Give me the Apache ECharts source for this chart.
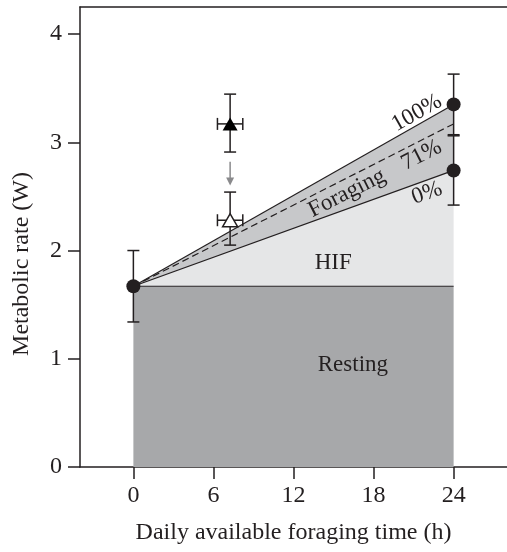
<!DOCTYPE html>
<html>
<head>
<meta charset="utf-8">
<script src="https://cdn.jsdelivr.net/npm/echarts@6/dist/echarts.min.js"></script>
<style>
html,body{margin:0;padding:0;background:#fff;}
#chart{width:507px;height:552px;}
</style>
</head>
<body>
<div id="chart"></div>
<script>
// ---- data ----
const hours = [0, 24];
const restingRate = [1.67, 1.67];
const foraging0 = [1.67, 2.74];
const foraging71 = [1.67, 3.17];
const foraging100 = [1.67, 3.35];

const measuredX = [0, 24, 24];
const measuredY = [1.67, 3.35, 2.74];
const measuredLow = [1.34, 3.07, 2.42];
const measuredHigh = [2.00, 3.63, 3.06];

const triX = [7.25, 7.25];
const triXLow = [6.3, 6.3];
const triXHigh = [8.2, 8.2];
const triY = [3.17, 2.28];          // filled, open
const triLow = [2.91, 2.05];
const triHigh = [3.445, 2.54];
const arrowFrom = [7.25, 2.82];
const arrowTo = [7.25, 2.60];

const xTicks = [0, 6, 12, 18, 24];
const yTicks = [0, 1, 2, 3, 4];

const labelTexts = ['100%', '71%', '0%', 'Foraging', 'HIF', 'Resting'];
const labelX = [21.25, 21.6, 22.0, 16.0, 14.98, 16.45];
const labelY = [3.27, 2.88, 2.53, 2.53, 1.885, 0.944];
const labelRot = [29.7, 27, 20, 26.6, 0, 0];

// ---- build ----
const INK = '#231f20';
const FONT = 'Liberation Serif';

function polygonSeries(pts, color, z) {
  return {
    type: 'custom', z: z, silent: true,
    data: [0],
    renderItem: function (params, api) {
      return {
        type: 'polygon',
        shape: { points: pts.map(p => api.coord(p)) },
        style: { fill: color }
      };
    }
  };
}

const restingPoly = [[hours[0], 0], [hours[0], restingRate[0]], [hours[1], restingRate[1]], [hours[1], 0]];
const hifPoly = [[hours[0], restingRate[0]], [hours[1], foraging0[1]], [hours[1], restingRate[1]]];
const foragePoly = [[hours[0], foraging0[0]], [hours[1], foraging100[1]], [hours[1], foraging0[1]]];

function lineSeries(vals, dashed, z) {
  return {
    type: 'line', z: z, silent: true, symbol: 'none',
    data: hours.map((h, i) => [h, vals[i]]),
    lineStyle: { color: INK, width: 1.2, type: dashed ? [7, 4] : 'solid' }
  };
}

const errData = [];
for (let i = 0; i < measuredX.length; i++) errData.push([measuredX[i], measuredY[i], measuredLow[i], measuredHigh[i], NaN, NaN]);
for (let i = 0; i < triX.length; i++) errData.push([triX[i], triY[i], triLow[i], triHigh[i], triXLow[i], triXHigh[i]]);

const errSeries = {
  type: 'custom', z: 5, silent: true,
  data: errData,
  renderItem: function (params, api) {
    const x = api.value(0), y = api.value(1);
    const lo = api.coord([x, api.value(2)]);
    const hi = api.coord([x, api.value(3)]);
    const cap = 6;
    const st = { stroke: INK, lineWidth: 1.5 };
    const children = [
      { type: 'line', shape: { x1: lo[0], y1: lo[1], x2: hi[0], y2: hi[1] }, style: st },
      { type: 'line', shape: { x1: lo[0] - cap, y1: lo[1], x2: lo[0] + cap, y2: lo[1] }, style: st },
      { type: 'line', shape: { x1: hi[0] - cap, y1: hi[1], x2: hi[0] + cap, y2: hi[1] }, style: st }
    ];
    const xl = api.value(4), xh = api.value(5);
    if (!isNaN(xl)) {
      const l = api.coord([xl, y]), r = api.coord([xh, y]);
      children.push(
        { type: 'line', shape: { x1: l[0], y1: l[1], x2: r[0], y2: r[1] }, style: st },
        { type: 'line', shape: { x1: l[0], y1: l[1] - cap, x2: l[0], y2: l[1] + cap }, style: st },
        { type: 'line', shape: { x1: r[0], y1: r[1] - cap, x2: r[0], y2: r[1] + cap }, style: st }
      );
    }
    return { type: 'group', children: children };
  }
};

const arrowSeries = {
  type: 'custom', z: 5, silent: true,
  data: [[arrowFrom[0], arrowFrom[1], arrowTo[0], arrowTo[1]]],
  renderItem: function (params, api) {
    const a = api.coord([api.value(0), api.value(1)]);
    const b = api.coord([api.value(2), api.value(3)]);
    const c = '#8a8a8c';
    return {
      type: 'group', children: [
        { type: 'line', shape: { x1: a[0], y1: a[1], x2: b[0], y2: b[1] - 6 }, style: { stroke: c, lineWidth: 1.5 } },
        { type: 'polygon', shape: { points: [[b[0] - 4, b[1] - 8], [b[0] + 4, b[1] - 8], [b[0], b[1]]] }, style: { fill: c } }
      ]
    };
  }
};

const labelSeries = {
  type: 'custom', z: 6, silent: true,
  data: labelTexts.map((t, i) => [labelX[i], labelY[i], i]),
  renderItem: function (params, api) {
    const i = api.value(2);
    const p = api.coord([api.value(0), api.value(1)]);
    return {
      type: 'text', x: p[0], y: p[1], rotation: labelRot[i] * Math.PI / 180,
      style: { text: labelTexts[i], fill: INK, font: '23px "' + FONT + '"', align: 'center', verticalAlign: 'middle' }
    };
  }
};

const option = {
  animation: false,
  backgroundColor: '#fff',
  grid: { left: 80, right: 0, top: 7, bottom: 85, containLabel: false },
  xAxis: [{
    type: 'value', min: -4, max: 28,
    name: 'Daily available foraging time (h)', nameLocation: 'middle', nameGap: 54,
    nameTextStyle: { fontFamily: FONT, fontSize: 24, color: INK },
    axisLine: { show: true, onZero: false, lineStyle: { color: INK, width: 1.5 } },
    axisTick: { show: true, length: 12, customValues: xTicks, lineStyle: { color: INK, width: 1.5 } },
    axisLabel: { customValues: xTicks, margin: 17, fontFamily: FONT, fontSize: 24, color: INK },
    splitLine: { show: false }
  }, {
    type: 'value', min: -4, max: 28, position: 'top',
    axisLine: { show: true, onZero: false, lineStyle: { color: INK, width: 1.5 } },
    axisTick: { show: false }, axisLabel: { show: false }, splitLine: { show: false }
  }],
  yAxis: {
    type: 'value', min: 0, max: 4.25,
    name: 'Metabolic rate (W)', nameLocation: 'middle', nameGap: 46,
    nameTextStyle: { fontFamily: FONT, fontSize: 24, color: INK, padding: [0, 54, 0, 0] },
    axisLine: { show: true, onZero: false, lineStyle: { color: INK, width: 1.5 } },
    axisTick: { show: true, length: 12, customValues: yTicks, lineStyle: { color: INK, width: 1.5 } },
    axisLabel: { customValues: yTicks, margin: 18, fontFamily: FONT, fontSize: 24, color: INK },
    splitLine: { show: false }
  },
  series: [
    polygonSeries(restingPoly, '#a7a8aa', 1),
    polygonSeries(hifPoly, '#e5e6e7', 1),
    polygonSeries(foragePoly, '#c7c8ca', 1),
    lineSeries(restingRate, false, 3),
    lineSeries(foraging0, false, 3),
    lineSeries(foraging100, false, 3),
    lineSeries(foraging71, true, 3),
    errSeries,
    arrowSeries,
    {
      type: 'scatter', z: 7, silent: true, symbol: 'circle', symbolSize: 14,
      itemStyle: { color: INK, opacity: 1 },
      data: measuredX.map((x, i) => [x, measuredY[i]])
    },
    {
      type: 'scatter', z: 7, silent: true, symbol: 'triangle', symbolSize: [15, 13],
      itemStyle: { color: '#000', opacity: 1 },
      data: [[triX[0], triY[0]]]
    },
    {
      type: 'scatter', z: 7, silent: true, symbol: 'triangle', symbolSize: [15, 13],
      itemStyle: { color: '#fff', borderColor: INK, borderWidth: 1.5, opacity: 1 },
      data: [[triX[1], triY[1]]]
    },
    labelSeries
  ]
};

const chart = echarts.init(document.getElementById('chart'), null, { renderer: 'canvas' });
chart.setOption(option);
</script>
</body>
</html>
